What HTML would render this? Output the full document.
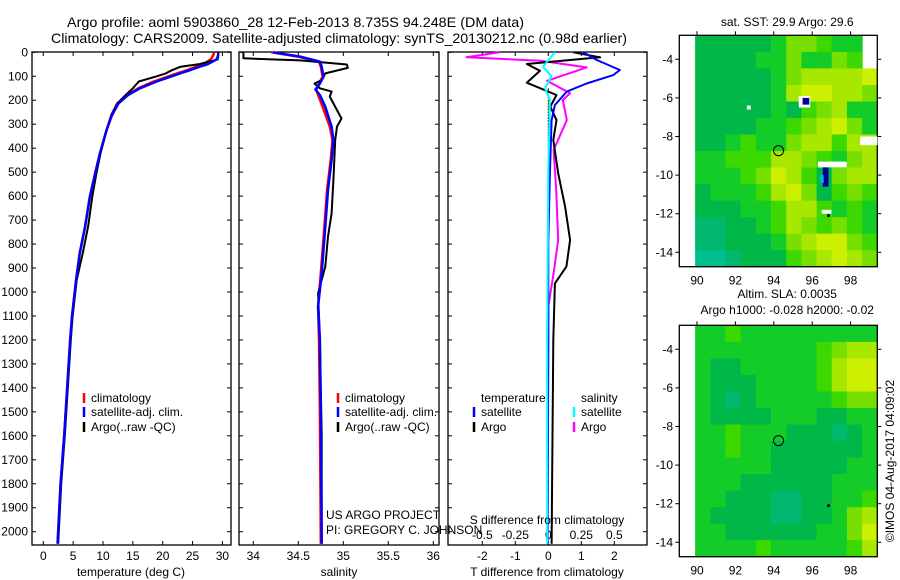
<!DOCTYPE html>
<html><head><meta charset="utf-8"><style>
html,body{margin:0;padding:0;background:#fff;}
svg{display:block;font-family:"Liberation Sans",sans-serif;}
</style></head><body>
<svg id="root" width="900" height="580" viewBox="0 0 900 580" xmlns="http://www.w3.org/2000/svg">
<text x="67" y="27" font-size="14" textLength="457" lengthAdjust="spacingAndGlyphs">Argo profile: aoml 5903860_28 12-Feb-2013 8.735S 94.248E (DM data)</text>
<text x="51" y="43" font-size="14" textLength="576" lengthAdjust="spacingAndGlyphs">Climatology: CARS2009. Satellite-adjusted climatology: synTS_20130212.nc (0.98d earlier)</text>
<g id="g"></g>
</svg>
<script>
// ---- temperature panel data ----
const tDepth = [0,10,20,30,50,60,75,88,100,122,150,178,213,262,324,421,505,602,727,839,950,1103,1200,1400,1600,1800,2000,2050];
const tSat   = [29.3,29.3,29.2,29.0,27.5,26.2,24.5,22.9,21.5,19.0,16.2,14.2,12.6,11.5,10.6,9.5,8.7,7.8,7.0,6.1,5.5,4.8,4.5,4.0,3.5,2.9,2.5,2.4];
const tClim  = [28.6,28.5,28.3,28.0,26.8,25.6,24.0,22.4,21.0,18.5,15.9,14.0,12.4,11.4,10.6,9.5,8.7,7.8,7.0,6.1,5.5,4.8,4.5,4.0,3.5,2.9,2.5,2.4];
const tArgo  = [29.3,29.3,29.3,29.2,26.0,23.0,21.5,20.5,19.0,16.0,15.0,13.8,12.4,11.4,10.6,9.6,8.9,8.2,7.5,6.6,5.6,4.9,4.6,4.1,3.6,3.0,2.6,2.5];
// ---- salinity panel data ----
const sDepth = [0,18,39,60,102,130,155,178,227,310,366,449,574,727,922,1060,1200,1500,2050];
const sSat   = [34.22,34.52,34.74,34.76,34.78,34.74,34.69,34.74,34.80,34.87,34.89,34.87,34.83,34.80,34.76,34.72,34.74,34.75,34.76];
const sClim  = [34.20,34.50,34.73,34.75,34.77,34.73,34.70,34.72,34.77,34.85,34.88,34.86,34.82,34.79,34.75,34.72,34.73,34.74,34.75];
const saDepth= [0,4,25,34,51,65,88,116,130,150,164,185,241,276,310,366,533,672,769,894,1005,1200,1600,2050];
const sArgo  = [33.89,33.89,33.89,34.52,35.04,35.05,34.80,34.76,34.68,34.74,34.87,34.85,34.93,34.98,34.93,34.91,34.89,34.87,34.83,34.80,34.72,34.74,34.76,34.76];
// ---- difference panel data ----
const dtDepth = [0,32,74,95,130,164,220,283,505,783,1200,2050];
const dtSat   = [1.06,1.47,2.17,1.97,1.16,0.56,0.20,0.10,0.05,0.0,0.0,-0.02];
const daDepth = [0,21,49,77,127,178,227,283,366,505,644,783,894,964,1200,2050];
const dtArgo  = [0.76,1.57,-0.65,-0.25,-0.65,0.25,0.06,0.25,0.15,0.30,0.51,0.66,0.55,0.20,0.15,0.10];
const dsaDepth= [0,21,35,63,119,171,199,283,408,574,783,922,1060,2050];
const dsArgo  = [-0.37,-0.62,-0.06,0.29,-0.01,0.165,0.11,0.14,0.04,0.06,0.075,0.04,0.0,-0.005];
const dssDepth= [0,60,100,150,200,500,1200,2050];
const dsSat   = [0.05,-0.04,0.025,-0.025,0.012,0.0,-0.008,-0.008];
// ---- map data (values 0-9, -1 = missing), rows top(north) to bottom ----
const sstGrid = [
[3,3,3,3,3,4,6,6,5,4,4,-1],
[3,3,3,3,4,4,6,4,4,6,5,-1],
[3,3,3,3,3,4,6,7,7,7,7,8],
[3,3,3,3,3,4,7,8,8,7,7,6],
[3,3,3,3,3,4,3,5,6,7,4,4],
[3,3,3,3,4,4,5,6,7,8,6,4],
[3,3,4,5,4,4,6,7,7,5,7,7],
[4,4,5,5,5,7,7,6,5,4,6,7],
[4,4,4,5,6,8,7,5,3,6,7,7],
[3,4,4,4,5,7,8,6,3,5,6,5],
[3,3,3,4,4,5,7,7,5,4,5,4],
[2,2,3,3,4,5,7,6,5,6,5,4],
[2,2,3,3,3,4,6,7,8,8,6,5],
[1,1,2,3,3,3,5,6,7,8,7,6]];
const slaGrid = [
[4,4,5,4,4,4,4,4,4,4,4,4],
[4,4,4,4,4,4,4,4,5,6,7,7],
[4,3,3,4,4,4,4,4,5,7,8,8],
[4,3,3,3,4,4,4,4,5,7,8,8],
[4,3,2,3,4,4,4,4,4,5,6,6],
[4,3,3,3,3,4,4,4,3,3,4,4],
[4,4,5,4,4,4,3,3,3,2,3,4],
[4,4,5,4,4,3,3,3,3,3,3,4],
[4,4,4,4,4,3,3,3,3,3,4,4],
[4,4,4,3,3,3,3,3,3,4,4,4],
[4,4,3,3,3,2,2,3,3,4,4,5],
[4,3,3,3,3,2,2,3,3,4,6,7],
[4,4,3,3,3,3,3,3,4,4,6,8],
[4,4,4,4,5,4,4,4,4,4,5,7]];
const argoPos = [94.248, -8.735];
const tTicks = [0,5,10,15,20,25,30];
const sTicks = [34,34.5,35,35.5,36];
const dTicks = [-2,-1,0,1,2];
const dsTicks = [-0.5,-0.25,0,0.25,0.5];
const depthTicks = [0,100,200,300,400,500,600,700,800,900,1000,1100,1200,1300,1400,1500,1600,1700,1800,1900,2000];
const lonTicks = [90,92,94,96,98];
const latTicks = [-4,-6,-8,-10,-12,-14];

const NS='http://www.w3.org/2000/svg';
const G=document.getElementById('g');
function mk(tag,attrs,parent){const e=document.createElementNS(NS,tag);for(const k in attrs)e.setAttribute(k,attrs[k]);(parent||G).appendChild(e);return e;}
function txt(s,x,y,size,anchor,parent){const e=mk('text',{x:x,y:y,'font-size':size,'text-anchor':anchor||'start'},parent);e.textContent=s;return e;}

const yD = d => 52.3 + d*0.2397;
const PT=52, PB=545;
const xT = t => 43.3 + t*5.97;
const xS = s => 253.3 + (s-34)*90;
const xDT = v => 548.3 + v*33;
const xDS = v => 548.3 + v*132;

function frame(x0,x1,name){
  const r=mk('rect',{x:x0,y:PT,width:x1-x0,height:PB-PT,fill:'none',stroke:'#000','stroke-width':1.3});
  
  
  depthTicks.forEach(d=>{const y=yD(d);mk('line',{x1:x0,x2:x0+4,y1:y,y2:y,stroke:'#000'});mk('line',{x1:x1-4,x2:x1,y1:y,y2:y,stroke:'#000'});});
}
function xticks(vals,fx,labelY,name,labels){
  vals.forEach((v,i)=>{const x=fx(v);mk('line',{x1:x,x2:x,y1:PT,y2:PT+4,stroke:'#000'});mk('line',{x1:x,x2:x,y1:PB-4,y2:PB,stroke:'#000'});
    const t=txt(labels?labels[i]:String(v),x,labelY,12,'middle');
    
    });
}
function line(xs,ds,fx,color,w,name){
  const pts=xs.map((v,i)=>fx(v).toFixed(1)+','+yD(ds[i]).toFixed(1)).join(' ');
  const p=mk('polyline',{points:pts,fill:'none',stroke:color,'stroke-width':w,'stroke-linejoin':'round'});
  
  
}
function legend(x,y,color,label,name){
  mk('line',{x1:x,x2:x,y1:y-9,y2:y+1,stroke:color,'stroke-width':2.5});
  const t=txt(label,x+7,y,12,'start');
  
  
}

// Panel 1
frame(32,231,'temperature-panel');
depthTicks.forEach(d=>{const t=txt(String(d),28,yD(d)+4,12,'end');
  
  });
xticks(tTicks,xT,560,'temperature-tick-label');
line(tClim,tDepth,xT,'#f00',2.5,'temperature-climatology-line');
line(tArgo,tDepth,xT,'#000',2,'temperature-argo-line');
line(tSat,tDepth,xT,'#00f',2.5,'temperature-satellite-line');
let at=txt('temperature (deg C)',131,576,12,'middle');
legend(84,402,'#f00','climatology','legend-climatology');
legend(84,416,'#00f','satellite-adj. clim.','legend-satellite');
legend(84,431,'#000','Argo(..raw -QC)','legend-argo');

// Panel 2
frame(239,439,'salinity-panel');
xticks(sTicks,xS,560,'salinity-tick-label');
line(sClim,sDepth,xS,'#f00',2.5,'salinity-climatology-line');
line(sArgo,saDepth,xS,'#000',2,'salinity-argo-line');
line(sSat,sDepth,xS,'#00f',2.5,'salinity-satellite-line');
at=txt('salinity',339,576,12,'middle');
legend(338,402,'#f00','climatology','legend-climatology-2');
legend(338,416,'#00f','satellite-adj. clim.','legend-satellite-2');
legend(338,431,'#000','Argo(..raw -QC)','legend-argo-2');
at=txt('US ARGO PROJECT',326,519,12,'start');
at=txt('PI: GREGORY C. JOHNSON',326,534,12,'start');

// Panel 3
frame(448,647,'difference-panel');
xticks(dTicks,xDT,560,'t-difference-tick-label');
dsTicks.forEach((v,i)=>{const t=txt(['-0.5','-0.25','0','0.25','0.5'][i],xDS(v),539,12,'middle');
  
  });
for(let d=150;d<400;d+=12){mk('line',{x1:xDT(0),x2:xDT(0),y1:yD(d),y2:yD(d)+2,stroke:'#000'});}
line(dsArgo,dsaDepth,xDS,'#f0f',2,'s-argo-difference-line');
line(dtArgo,daDepth,xDT,'#000',2,'t-argo-difference-line');
line(dtSat,dtDepth,xDT,'#00f',2,'t-satellite-difference-line');
line(dsSat,dssDepth,xDS,'#0ff',2,'s-satellite-difference-line');
at=txt('S difference from climatology',547,524,12,'middle');
at=txt('T difference from climatology',547,576,12,'middle');
at=txt('temperature',481,402,12,'start');
at=txt('salinity',581,402,12,'start');
legend(474,416,'#00f','satellite','legend-t-satellite');
legend(474,431,'#000','Argo','legend-t-argo');
legend(574,416,'#0ff','satellite','legend-s-satellite');
legend(574,431,'#f0f','Argo','legend-s-argo');

// Maps
const cmap=['#00c8a0','#00c090','#00b870','#00b848','#14cc28','#3cd800','#78e000','#a8e800','#cdf000','#e6dc00'];
function drawMap(grid,dy,name,title1,title2){
  const xL=lon=>697+(lon-90)*19.2, yL=lat=>59.3+dy+(-4-lat)*19.3;
  const lon0=89.9, lon1=99.39, lat0=-2.76, lat1=-14.75;
  const rows=grid.length, cols=grid[0].length;
  const cw=(lon1-lon0)/cols, ch=(lat0-lat1)/rows;
  const gm=mk('g',{});
  
  
  grid.forEach((row,r)=>row.forEach((v,c)=>{
    if(v<0) return;
    const x=xL(lon0+c*cw), y=yL(lat0-r*ch);
    const cell=mk('rect',{x:x.toFixed(1),y:y.toFixed(1),width:(cw*19.2+0.6).toFixed(1),height:(ch*19.3+0.6).toFixed(1),fill:cmap[v]},gm);
    
    
  }));
  const x0=679.3,x1=877.3,y0=35.3+dy,y1=266.7+dy;
  const fr=mk('rect',{x:x0,y:y0,width:x1-x0,height:y1-y0,fill:'none',stroke:'#000','stroke-width':1.3});
  
  
  lonTicks.forEach(l=>{const x=xL(l);mk('line',{x1:x,x2:x,y1:y0,y2:y0-4,stroke:'#000'});
    const t=txt(String(l),x,y1+18,12,'middle');});
  latTicks.forEach(l=>{const y=yL(l);mk('line',{x1:x0,x2:x0-4,y1:y,y2:y,stroke:'#000'});mk('line',{x1:x1,x2:x1+4,y1:y,y2:y,stroke:'#000'});
    const t=txt(String(l),673,y+4,12,'end');});
  const c=mk('circle',{cx:xL(argoPos[0]),cy:yL(argoPos[1]),r:5,fill:'none',stroke:'#000','stroke-width':1});
  
  
  mk('circle',{cx:xL(96.85),cy:yL(-12.1),r:1.5,fill:'#000'});
  if(title2){
    let t=txt(title1,xL(94.7),dy+8,12,'middle');
    t=txt(title2,xL(94.7),dy+24,12,'middle');
  } else {
    const t=txt(title1,xL(94.7),26,12,'middle');
  }
  return {xL,yL};
}
const m1=drawMap(sstGrid,0,'sst-map','sat. SST: 29.9  Argo: 29.6');
// small missing / anomaly patches on SST map
[[95.3,-5.9,0.6,0.6,'#fff'],[95.5,-6.0,0.35,0.35,'#0000a0'],[96.3,-9.3,1.5,0.3,'#fff'],[96.55,-9.6,0.3,1.0,'#0000a0'],[96.4,-10.0,0.2,0.4,'#00b8c8'],[98.5,-8.0,0.9,0.45,'#fff'],[92.6,-6.4,0.2,0.2,'#fff'],[96.5,-11.8,0.5,0.2,'#fff']].forEach(p=>{
  const r=mk('rect',{x:m1.xL(p[0]),y:m1.yL(p[1]),width:p[2]*19.2,height:p[3]*19.3,fill:p[4]});
  
  
});
drawMap(slaGrid,290,'sla-map','Altim. SLA: 0.0035','Argo h1000: -0.028  h2000: -0.02');
const cr=txt('\u00A9IMOS 04-Aug-2017 04:09:02',0,0,12,'middle');
cr.setAttribute('transform','translate(894,461) rotate(-90)');


</script>
</body></html>
